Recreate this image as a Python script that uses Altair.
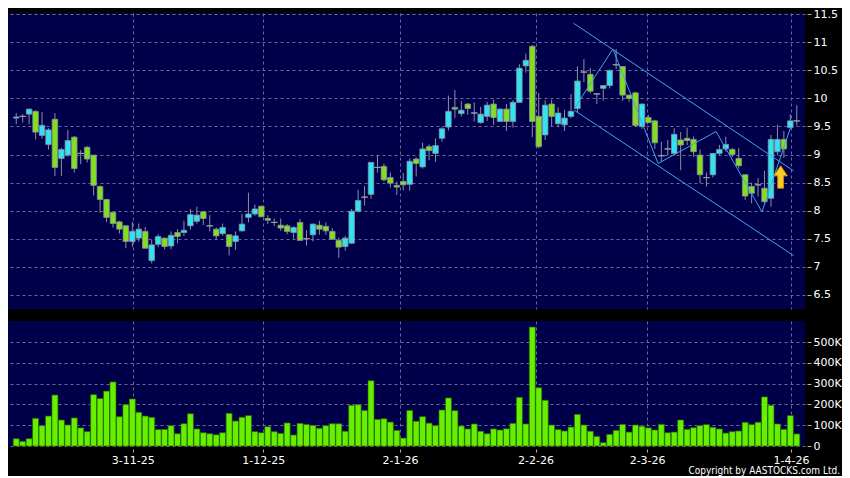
import altair as alt
import pandas as pd

# ---------------- data ----------------
opens = [9.65, 9.68, 9.72, 9.77, 9.34, 9.18, 9.63, 8.93, 8.99, 9.31,
         9.02, 9.13, 8.99, 8.43, 8.20, 7.97, 7.80, 7.73, 7.45, 7.51,
         7.63, 7.11, 7.40, 7.51, 7.37, 7.61, 7.61, 7.73, 7.81, 7.98,
         7.73, 7.67, 7.59, 7.57, 7.45, 7.64, 7.88, 7.94, 8.08, 7.86,
         7.79, 7.74, 7.73, 7.61, 7.79, 7.50, 7.57, 7.74, 7.72, 7.63,
         7.47, 7.36, 7.42, 7.99, 8.24, 8.29, 8.77, 8.79, 8.59, 8.45,
         8.52, 8.47, 8.92, 8.78, 9.14, 9.02, 9.29, 9.49, 9.84, 9.73,
         9.90, 9.74, 9.57, 9.68, 9.90, 9.59, 9.81, 9.59, 9.93, 10.58,
         10.93, 9.68, 9.35, 9.90, 9.55, 9.53, 9.68, 9.82, 10.47, 10.43,
         10.08, 10.18, 10.23, 10.60, 10.57, 10.06, 10.10, 9.50, 9.66, 9.60,
         8.98, 9.10, 9.02, 9.26, 9.29, 9.27, 8.99, 8.59, 8.64, 9.02,
         9.10, 9.09, 8.93, 8.64, 8.43, 8.46, 8.40, 8.22, 9.05, 9.27,
         9.48, 9.60]
highs = [9.74, 9.72, 9.82, 9.79, 9.76, 9.47, 9.74, 9.12, 9.44, 9.33,
         9.08, 9.15, 8.99, 8.45, 8.20, 7.98, 7.82, 7.74, 7.80, 7.77,
         7.71, 7.48, 7.58, 7.52, 7.63, 7.67, 7.82, 8.03, 8.07, 7.99,
         7.92, 7.70, 7.77, 7.58, 7.63, 7.94, 8.32, 8.11, 8.08, 7.92,
         7.86, 7.86, 7.76, 7.72, 7.85, 7.65, 7.77, 7.82, 7.79, 7.69,
         7.52, 7.55, 8.03, 8.37, 8.44, 8.86, 8.99, 8.84, 8.68, 8.52,
         8.67, 8.93, 8.95, 9.21, 9.18, 9.29, 9.49, 10.05, 10.15, 9.95,
         9.92, 9.93, 9.85, 9.94, 9.98, 9.82, 9.90, 9.97, 10.61, 10.80,
         10.95, 10.10, 9.97, 9.98, 9.84, 9.80, 10.08, 10.57, 10.70, 10.54,
         10.09, 10.23, 10.51, 10.88, 10.57, 10.07, 10.12, 9.91, 9.71, 9.62,
         9.23, 9.26, 9.47, 9.40, 9.48, 9.32, 9.09, 8.68, 9.03, 9.17,
         9.32, 9.12, 9.12, 8.64, 8.50, 8.58, 8.71, 9.35, 9.53, 9.42,
         9.72, 9.88]
lows = [9.54, 9.57, 9.54, 9.27, 9.28, 9.09, 8.62, 8.62, 8.96, 8.68,
        8.83, 8.86, 8.27, 7.96, 7.80, 7.70, 7.59, 7.33, 7.35, 7.45,
        7.33, 7.06, 7.35, 7.31, 7.31, 7.42, 7.55, 7.66, 7.77, 7.74,
        7.63, 7.48, 7.55, 7.20, 7.30, 7.63, 7.79, 7.91, 7.89, 7.76,
        7.73, 7.64, 7.58, 7.50, 7.47, 7.38, 7.45, 7.57, 7.57, 7.48,
        7.16, 7.29, 7.41, 7.97, 8.09, 8.21, 8.68, 8.52, 8.41, 8.28,
        8.36, 8.36, 8.61, 8.75, 8.90, 8.87, 9.23, 9.43, 9.65, 9.68,
        9.71, 9.59, 9.55, 9.60, 9.53, 9.59, 9.42, 9.48, 9.93, 10.46,
        9.31, 9.11, 9.26, 9.50, 9.49, 9.42, 9.65, 9.74, 10.29, 10.09,
        9.90, 9.96, 10.18, 10.52, 9.96, 9.94, 9.49, 9.46, 9.56, 9.10,
        8.87, 8.99, 8.98, 8.72, 9.17, 8.96, 8.49, 8.43, 8.59, 8.99,
        9.05, 8.96, 8.75, 8.19, 8.13, 8.25, 8.13, 8.07, 8.99, 8.94,
        9.46, 9.52]
closes = [9.67, 9.68, 9.81, 9.40, 9.52, 9.44, 8.77, 9.09, 9.25, 8.75,
          9.02, 8.92, 8.45, 8.20, 7.88, 7.77, 7.67, 7.45, 7.63, 7.67,
          7.33, 7.39, 7.54, 7.36, 7.56, 7.54, 7.65, 7.93, 7.92, 7.86,
          7.73, 7.55, 7.70, 7.36, 7.55, 7.76, 7.94, 8.03, 7.89, 7.83,
          7.79, 7.69, 7.63, 7.70, 7.47, 7.50, 7.76, 7.67, 7.64, 7.49,
          7.35, 7.51, 7.99, 8.18, 8.24, 8.86, 8.77, 8.55, 8.49, 8.42,
          8.46, 8.88, 8.84, 9.10, 9.07, 9.16, 9.46, 9.77, 9.81, 9.79,
          9.82, 9.74, 9.72, 9.88, 9.66, 9.81, 9.59, 9.93, 10.54, 10.68,
          9.59, 9.14, 9.88, 9.68, 9.74, 9.65, 9.77, 10.31, 10.47, 10.13,
          10.08, 10.23, 10.50, 10.60, 10.06, 10.00, 9.52, 9.90, 9.57, 9.21,
          8.98, 9.10, 9.36, 9.17, 9.25, 9.05, 8.64, 8.59, 9.02, 9.09,
          9.18, 9.00, 8.80, 8.26, 8.31, 8.46, 8.16, 9.27, 9.27, 9.10,
          9.60, 9.60]
volumes = [35, 22, 35, 133, 98, 144, 245, 125, 101, 135,
           87, 69, 247, 228, 264, 308, 141, 199, 226, 162,
           144, 138, 79, 80, 98, 59, 107, 155, 82, 64,
           59, 54, 64, 157, 120, 138, 146, 69, 64, 93,
           69, 61, 111, 53, 109, 104, 99, 85, 98, 107,
           107, 71, 196, 199, 171, 314, 128, 131, 115, 75,
           38, 171, 119, 141, 110, 98, 173, 231, 170, 96,
           82, 106, 71, 59, 82, 77, 83, 109, 234, 106,
           572, 280, 220, 101, 79, 72, 91, 152, 101, 71,
           46, 16, 56, 75, 104, 67, 101, 95, 87, 77,
           104, 64, 67, 125, 80, 88, 98, 103, 90, 82,
           62, 69, 72, 114, 103, 114, 236, 196, 106, 80,
           146, 58]  # thousands of shares

date_labels = ["3-11-25", "1-12-25", "2-1-26", "2-2-26", "2-3-26", "1-4-26"]
date_ticks = [18.05, 38.3, 59.5, 80.5, 97.8, 120.1]
price_ticks = [6.5, 7, 7.5, 8, 8.5, 9, 9.5, 10, 10.5, 11, 11.5]
volume_ticks = [0, 100000, 200000, 300000, 400000, 500000]

upper_channel_idx = [86.4, 120.5]
upper_channel_price = [11.34, 8.71]
lower_channel_idx = [86.5, 120.5]
lower_channel_price = [9.79, 7.20]
zigzag_idx = [86.5, 92.5, 99.5, 108.5, 115.6, 120.0]
zigzag_price = [9.82, 10.88, 8.84, 9.41, 7.98, 9.47]
arrow_idx = [118.5]
arrow_price = [8.60]
copyright_text = ["Copyright by AASTOCKS.com Ltd."]

# ---------------- tables ----------------
n = len(opens)
candles = pd.DataFrame({
    "i": list(range(n)),
    "open": opens, "high": highs, "low": lows, "close": closes,
    "volume": [v * 1000 for v in volumes],
})
candles["dir"] = ["up" if c > o else ("down" if c < o else "flat")
                  for o, c in zip(opens, closes)]

lines_rows = []
for grp, xs, ys in [("upper", upper_channel_idx, upper_channel_price),
                    ("lower", lower_channel_idx, lower_channel_price),
                    ("zigzag", zigzag_idx, zigzag_price)]:
    for k, (xv, yv) in enumerate(zip(xs, ys)):
        lines_rows.append({"i": xv, "price": yv, "grp": grp, "ord": k})
lines_df = pd.DataFrame(lines_rows)
arrow_df = pd.DataFrame({"i": arrow_idx, "price": arrow_price})
copy_df = pd.DataFrame({"t": copyright_text})

# ---------------- styles ----------------
FONT = "DejaVu Sans"
GRID = "#6a6a96"
UP = "#2fe4f0"
DOWN = "#80e020"
EDGE = "#8e8ea0"
CHANNEL = "#3ea6e6"
VOL = "#66f000"

W = 797
PH = 296
VH = 125

x_scale = alt.Scale(domain=[-0.5, 121.5], nice=False, zero=False)
p_scale = alt.Scale(domain=[6.247, 11.523], nice=False, zero=False)
v_scale = alt.Scale(domain=[0, 601000], nice=False, zero=True)

x_grid_axis = alt.Axis(values=date_ticks, grid=True, gridColor=GRID,
                       gridDash=[3, 3], gridWidth=1, labels=False,
                       ticks=False, domain=False, title=None,
                       minExtent=0, maxExtent=0)

label_expr = ("[" + ",".join("'%s'" % d for d in date_labels) + "][indexof(["
              + ",".join(str(t) for t in date_ticks) + "], datum.value)]")
x_date_axis = alt.Axis(values=date_ticks, grid=True, gridColor=GRID,
                       gridDash=[3, 3], gridWidth=1, labelExpr=label_expr,
                       labelColor="#ffffff", labelFont=FONT, labelFontSize=11,
                       labelFlush=False, labelOverlap=False, ticks=True,
                       tickColor="#b0b0b0", tickSize=3, offset=3,
                       labelPadding=2, domain=False, title=None)

p_axis = alt.Axis(orient="right", values=price_ticks, format="~g", grid=True,
                  gridColor=GRID, gridDash=[3, 3], gridWidth=1, domain=False,
                  tickColor="#b0b0b0", tickSize=4, offset=2, labelPadding=2,
                  labelColor="#ffffff", labelFont=FONT, labelFontSize=11,
                  labelFlush=False, title=None)

v_axis = alt.Axis(orient="right", values=volume_ticks,
                  labelExpr="datum.value == 0 ? '0' : format(datum.value / 1000, 'd') + 'K'",
                  grid=True, gridColor=GRID, gridDash=[3, 3], gridWidth=1,
                  domain=False, tickColor="#b0b0b0", tickSize=4, offset=2,
                  labelPadding=2, labelColor="#ffffff", labelFont=FONT,
                  labelFontSize=11, labelFlush=False, title=None)


def X(axis=None):
    return alt.X("i:Q", scale=x_scale, axis=axis)


def PY(field):
    return alt.Y(field, scale=p_scale, axis=p_axis)


base = alt.Chart(candles)

wicks = base.mark_rule(color=EDGE, strokeWidth=1).encode(
    x=X(x_grid_axis), y=PY("low:Q"), y2="high:Q")

bodies = base.mark_bar(width=5.5, stroke=EDGE, strokeWidth=0.8).encode(
    x=X(x_grid_axis), y=PY("open:Q"), y2="close:Q",
    color=alt.Color("dir:N", legend=None,
                    scale=alt.Scale(domain=["up", "down", "flat"],
                                    range=[UP, DOWN, EDGE])))

dojis = base.transform_filter("datum.open == datum.close").mark_tick(
    orient="horizontal", size=7, thickness=1.2, color="#a0a0b0").encode(
    x=X(x_grid_axis), y=PY("close:Q"))

channel = alt.Chart(lines_df).mark_line(color=CHANNEL, strokeWidth=1).encode(
    x=X(x_grid_axis), y=PY("price:Q"), detail="grp:N", order="ord:Q")

arrow_path = ("M0,-1 L0.6,-0.1 L0.26,-0.1 L0.26,1 L-0.26,1 "
              "L-0.26,-0.1 L-0.6,-0.1 Z")
arrow = alt.Chart(arrow_df).mark_point(
    shape=arrow_path, size=500, filled=True, fill="#fbcb2c",
    stroke="#d88a00", strokeWidth=1, opacity=1).encode(
    x=X(x_grid_axis), y=PY("price:Q"))

price_chart = alt.layer(wicks, bodies, dojis, channel, arrow).properties(
    width=W, height=PH)

vol_bars = alt.Chart(candles).mark_bar(
    width=6, color=VOL, stroke="#2a6a00", strokeWidth=0.7).encode(
    x=X(x_date_axis),
    y=alt.Y("volume:Q", scale=v_scale, axis=v_axis))

copyright_mark = alt.Chart(copy_df).mark_text(
    align="right", baseline="middle", color="#ffffff", fontSize=10,
    font="DejaVu Sans Condensed").encode(
    x=alt.value(W + 35), y=alt.value(VH + 25), text="t:N")

volume_chart = alt.layer(vol_bars, copyright_mark).properties(
    width=W, height=VH)

chart = alt.vconcat(price_chart, volume_chart, spacing=12).configure(
    background="#000000", padding=0
).configure_view(fill="#00004a", stroke=None)

chart.save("out.html", embed_options={"renderer": "svg", "actions": False})
